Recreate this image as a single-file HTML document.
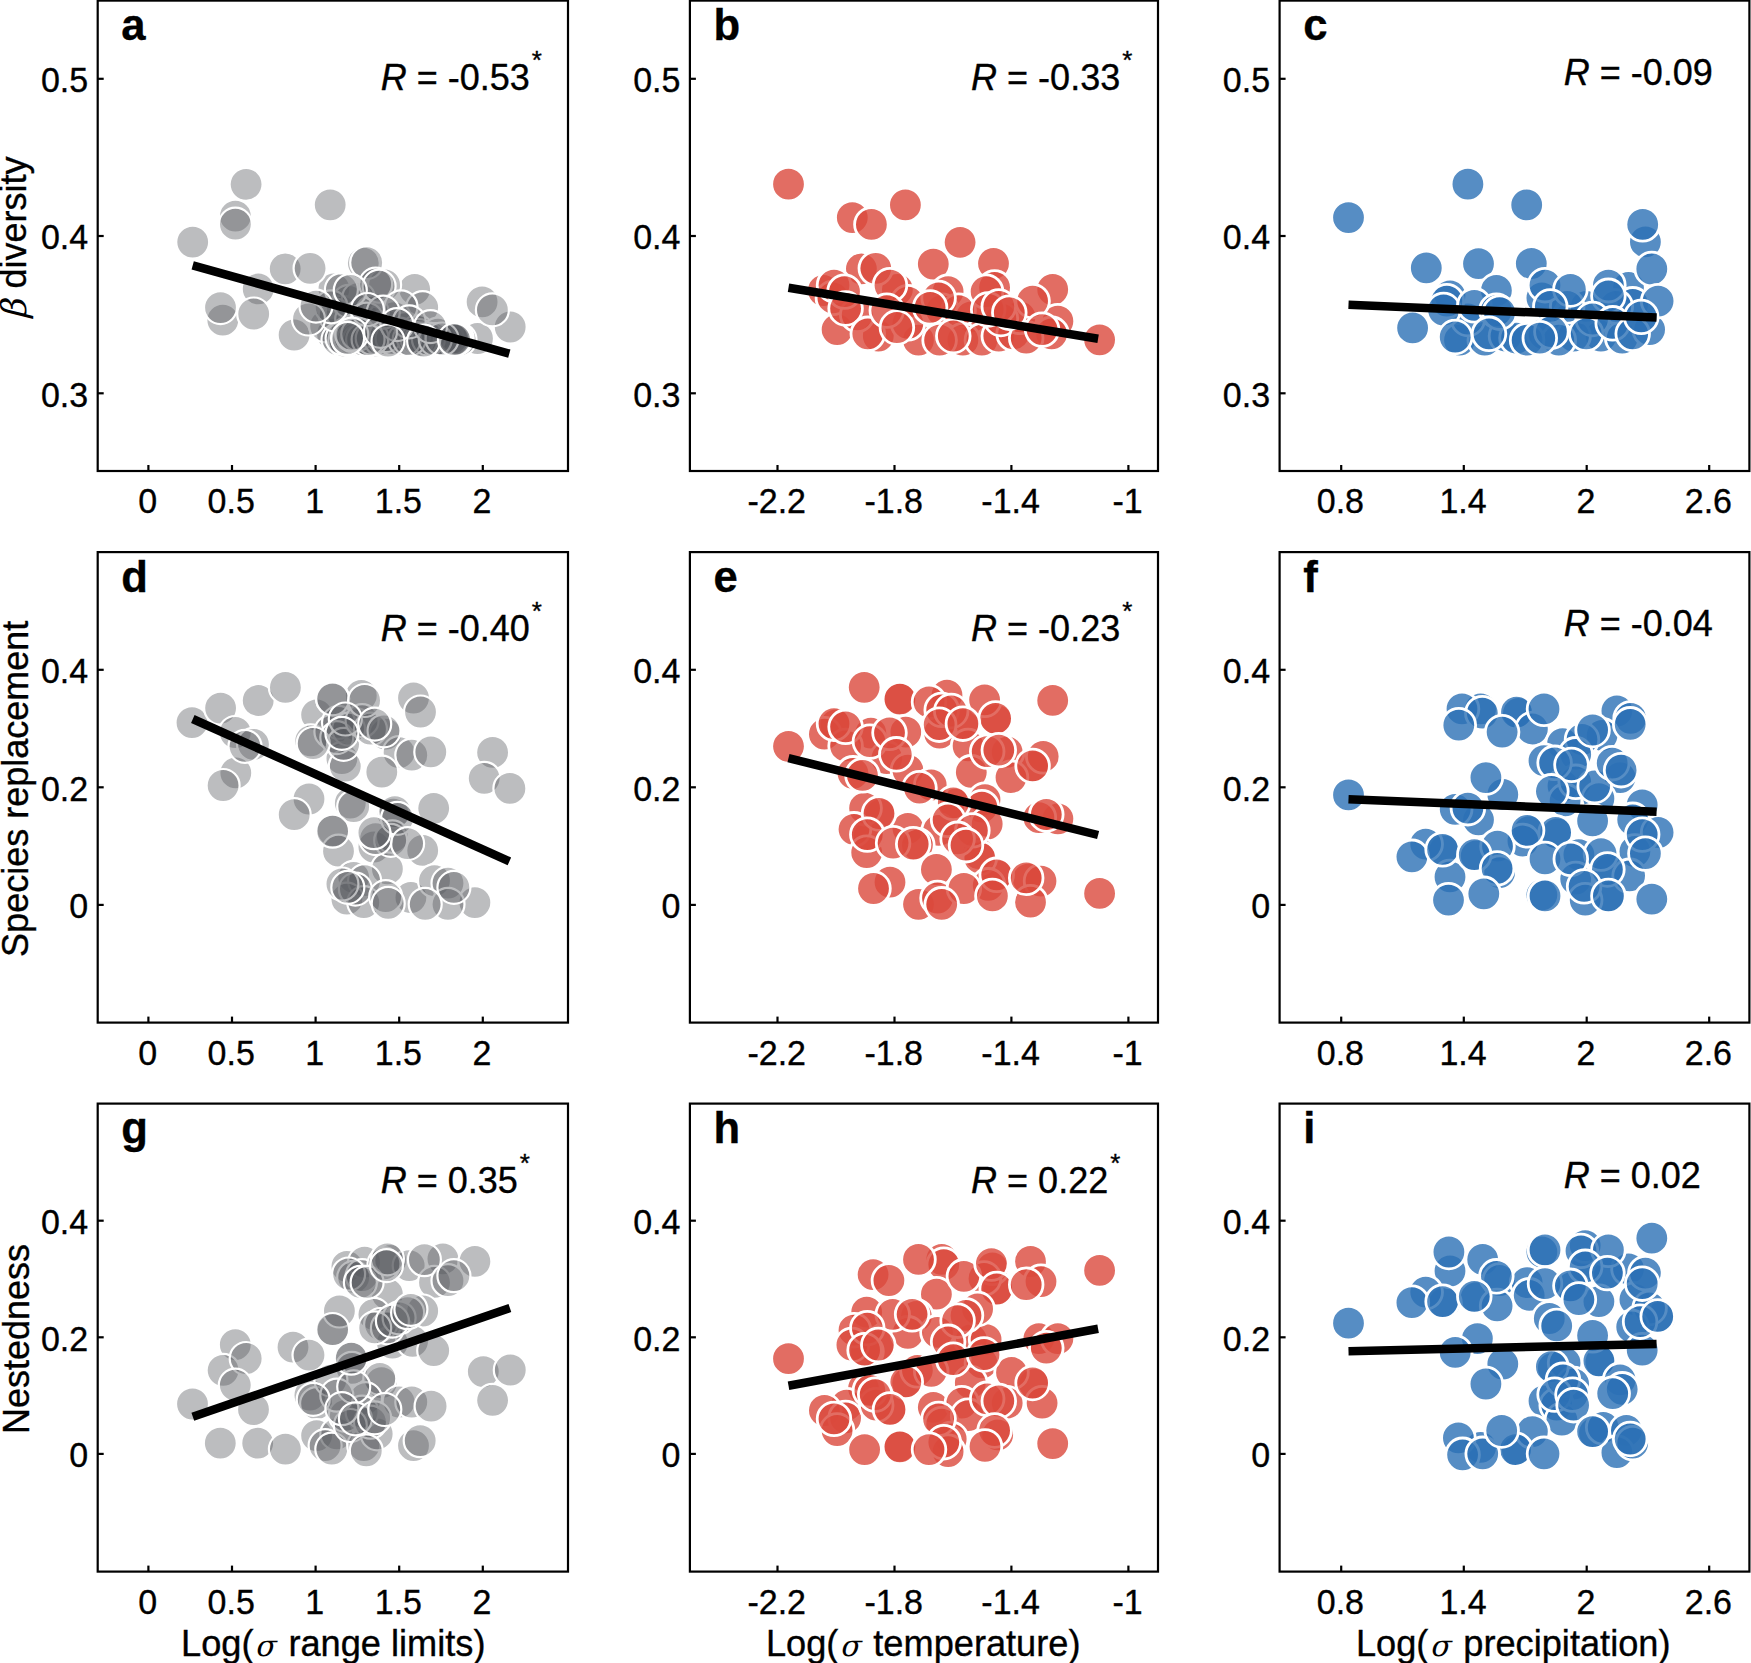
<!DOCTYPE html><html><head><meta charset="utf-8"><title>Figure</title><style>
html,body{margin:0;padding:0;background:#fff}svg{display:block}
text{font-family:"Liberation Sans",sans-serif;fill:#000;stroke:#000;stroke-width:0.35px}

.tk{font-size:34px}.ax{font-size:36px}.rt{font-size:36px}.pl{font-size:43.6px;font-weight:bold}
.gk{font-family:"DejaVu Math TeX Gyre","DejaVu Serif",serif;font-style:italic;stroke-width:0}
.fr{fill:none;stroke:#000;stroke-width:2.2}.t{stroke:#000;stroke-width:2.2}
.c0 circle{fill:#58595f;fill-opacity:0.4;stroke:#fff;stroke-width:2.2}
.c1 circle{fill:#db483c;fill-opacity:0.8;stroke:#fff;stroke-width:2.8}
.c2 circle{fill:#2c70b5;fill-opacity:0.8;stroke:#fff;stroke-width:2.8}
.ln{stroke:#000;stroke-width:8.5;stroke-linecap:butt}
</style></head><body>
<svg width="1751" height="1663" viewBox="0 0 1751 1663">
<rect width="1751" height="1663" fill="#fff"/>
<g>
<g class="c0">
<circle cx="246.1" cy="184.3" r="16.5"/><circle cx="330.2" cy="204.8" r="16.5"/><circle cx="235.4" cy="216.2" r="16.5"/><circle cx="192.7" cy="242.1" r="16.5"/><circle cx="285.2" cy="268.8" r="16.5"/><circle cx="363.3" cy="263.1" r="16.5"/><circle cx="258.2" cy="288.9" r="16.5"/><circle cx="222.8" cy="320.2" r="16.5"/><circle cx="294.1" cy="335.0" r="16.5"/><circle cx="482.1" cy="301.9" r="16.5"/><circle cx="510.2" cy="327.0" r="16.5"/><circle cx="477.5" cy="338.5" r="16.5"/><circle cx="414.7" cy="289.3" r="16.5"/><circle cx="422.7" cy="307.6" r="16.5"/><circle cx="384.6" cy="284.8" r="16.5"/><circle cx="333.9" cy="288.9" r="16.5"/><circle cx="332.5" cy="334.2" r="16.5"/><circle cx="372.2" cy="339.6" r="16.5"/><circle cx="413.4" cy="339.6" r="16.5"/><circle cx="447.6" cy="339.6" r="16.5"/><circle cx="460.0" cy="339.6" r="16.5"/><circle cx="433.9" cy="341.0" r="16.5"/><circle cx="362.6" cy="341.0" r="16.5"/><circle cx="355.8" cy="325.9" r="16.5"/><circle cx="325.6" cy="325.9" r="16.5"/><circle cx="338.0" cy="339.6" r="16.5"/><circle cx="344.8" cy="341.0" r="16.5"/><circle cx="353.0" cy="340.3" r="16.5"/><circle cx="366.8" cy="339.6" r="16.5"/><circle cx="377.7" cy="341.0" r="16.5"/><circle cx="384.6" cy="339.6" r="16.5"/><circle cx="394.2" cy="340.3" r="16.5"/><circle cx="402.4" cy="339.6" r="16.5"/><circle cx="407.9" cy="341.0" r="16.5"/><circle cx="418.8" cy="340.3" r="16.5"/><circle cx="427.1" cy="339.6" r="16.5"/><circle cx="440.8" cy="340.3" r="16.5"/><circle cx="342.1" cy="312.2" r="16.5"/><circle cx="351.7" cy="319.1" r="16.5"/><circle cx="361.3" cy="315.0" r="16.5"/><circle cx="372.2" cy="323.2" r="16.5"/><circle cx="385.9" cy="325.9" r="16.5"/><circle cx="394.2" cy="317.7" r="16.5"/><circle cx="405.1" cy="328.7" r="16.5"/><circle cx="417.5" cy="331.4" r="16.5"/><circle cx="358.5" cy="331.4" r="16.5"/><circle cx="366.8" cy="328.7" r="16.5"/><circle cx="375.0" cy="334.2" r="16.5"/><circle cx="438.0" cy="334.2" r="16.5"/><circle cx="348.9" cy="301.3" r="16.5"/><circle cx="358.5" cy="298.5" r="16.5"/><circle cx="348.9" cy="336.9" r="16.5"/><circle cx="354.4" cy="338.3" r="16.5"/><circle cx="358.5" cy="339.6" r="16.5"/><circle cx="351.0" cy="340.3" r="16.5"/><circle cx="361.3" cy="338.3" r="16.5"/><circle cx="357.2" cy="335.5" r="16.5"/><circle cx="346.2" cy="334.2" r="16.5"/><circle cx="364.0" cy="335.5" r="16.5"/><circle cx="342.1" cy="338.3" r="16.5"/><circle cx="352.4" cy="331.4" r="16.5"/><circle cx="379.1" cy="338.3" r="16.5"/><circle cx="385.9" cy="336.9" r="16.5"/><circle cx="391.4" cy="339.6" r="16.5"/><circle cx="396.9" cy="338.3" r="16.5"/><circle cx="381.8" cy="334.2" r="16.5"/><circle cx="388.7" cy="332.8" r="16.5"/><circle cx="399.6" cy="334.2" r="16.5"/><circle cx="416.1" cy="339.6" r="16.5"/><circle cx="421.6" cy="338.3" r="16.5"/><circle cx="425.7" cy="341.0" r="16.5"/><circle cx="418.8" cy="335.5" r="16.5"/><circle cx="451.7" cy="338.3" r="16.5"/><circle cx="457.2" cy="338.3" r="16.5"/><circle cx="372.2" cy="312.2" r="16.5"/><circle cx="366.8" cy="319.1" r="16.5"/><circle cx="335.2" cy="315.0" r="16.5"/><circle cx="331.1" cy="306.8" r="16.5"/><circle cx="350.3" cy="338.3" r="16.5"/><circle cx="353.7" cy="339.6" r="16.5"/><circle cx="356.5" cy="339.0" r="16.5"/><circle cx="359.2" cy="340.3" r="16.5"/><circle cx="348.3" cy="339.6" r="16.5"/><circle cx="362.6" cy="339.6" r="16.5"/><circle cx="352.4" cy="335.5" r="16.5"/><circle cx="357.8" cy="334.2" r="16.5"/><circle cx="380.5" cy="339.6" r="16.5"/><circle cx="384.6" cy="338.3" r="16.5"/><circle cx="388.0" cy="339.0" r="16.5"/><circle cx="392.1" cy="338.3" r="16.5"/><circle cx="385.9" cy="335.5" r="16.5"/><circle cx="413.4" cy="338.3" r="16.5"/><circle cx="417.5" cy="339.6" r="16.5"/><circle cx="420.9" cy="340.3" r="16.5"/><circle cx="428.4" cy="339.0" r="16.5"/><circle cx="453.1" cy="339.6" r="16.5"/><circle cx="455.8" cy="339.0" r="16.5"/><circle cx="372.2" cy="338.3" r="16.5"/><circle cx="368.1" cy="339.6" r="16.5"/><circle cx="404.4" cy="339.6" r="16.5"/><circle cx="409.2" cy="339.6" r="16.5"/><circle cx="435.3" cy="339.6" r="16.5"/><circle cx="442.1" cy="339.0" r="16.5"/><circle cx="235.4" cy="224.2" r="16.5"/><circle cx="310.1" cy="268.3" r="16.5"/><circle cx="366.7" cy="262.6" r="16.5"/><circle cx="220.5" cy="307.6" r="16.5"/><circle cx="253.7" cy="314.0" r="16.5"/><circle cx="308.5" cy="319.0" r="16.5"/><circle cx="492.4" cy="309.9" r="16.5"/><circle cx="375.7" cy="284.1" r="16.5"/><circle cx="379.1" cy="286.2" r="16.5"/><circle cx="341.4" cy="289.6" r="16.5"/><circle cx="350.3" cy="290.3" r="16.5"/><circle cx="401.0" cy="306.8" r="16.5"/><circle cx="316.0" cy="306.1" r="16.5"/><circle cx="383.2" cy="312.2" r="16.5"/><circle cx="367.4" cy="309.5" r="16.5"/><circle cx="409.2" cy="321.8" r="16.5"/><circle cx="396.9" cy="324.6" r="16.5"/><circle cx="430.5" cy="326.6" r="16.5"/><circle cx="351.7" cy="334.2" r="16.5"/><circle cx="347.6" cy="338.3" r="16.5"/><circle cx="380.5" cy="331.4" r="16.5"/><circle cx="388.0" cy="341.0" r="16.5"/><circle cx="423.6" cy="341.0" r="16.5"/><circle cx="454.5" cy="339.6" r="16.5"/>
</g>
<line class="ln" x1="192.7" y1="265.4" x2="509.3" y2="353.6"/>
<rect class="fr" x="97.70" y="0.60" width="470.30" height="470.40"/>
<line class="t" x1="148.4" y1="471.0" x2="148.4" y2="465.0"/>
<text class="tk" text-anchor="middle" transform="translate(147.6,513.0) scale(1,1.033)">0</text>
<line class="t" x1="232.0" y1="471.0" x2="232.0" y2="465.0"/>
<text class="tk" text-anchor="middle" transform="translate(231.2,513.0) scale(1,1.033)">0.5</text>
<line class="t" x1="315.6" y1="471.0" x2="315.6" y2="465.0"/>
<text class="tk" text-anchor="middle" transform="translate(314.8,513.0) scale(1,1.033)">1</text>
<line class="t" x1="399.2" y1="471.0" x2="399.2" y2="465.0"/>
<text class="tk" text-anchor="middle" transform="translate(398.4,513.0) scale(1,1.033)">1.5</text>
<line class="t" x1="482.8" y1="471.0" x2="482.8" y2="465.0"/>
<text class="tk" text-anchor="middle" transform="translate(482.0,513.0) scale(1,1.033)">2</text>
<line class="t" x1="97.7" y1="78.8" x2="103.7" y2="78.8"/>
<text class="tk" text-anchor="end" transform="translate(88.2,92.1) scale(1,1.033)">0.5</text>
<line class="t" x1="97.7" y1="236.0" x2="103.7" y2="236.0"/>
<text class="tk" text-anchor="end" transform="translate(88.2,249.3) scale(1,1.033)">0.4</text>
<line class="t" x1="97.7" y1="393.3" x2="103.7" y2="393.3"/>
<text class="tk" text-anchor="end" transform="translate(88.2,406.6) scale(1,1.033)">0.3</text>
<text class="pl" x="121.3" y="40.0">a</text>
<text class="rt" x="380.7" y="89.6"><tspan font-style="italic">R</tspan> = -0.53<tspan dy="-21" dx="2" font-size="26">*</tspan></text>
</g>
<g>
<g class="c1">
<circle cx="788.5" cy="184.2" r="16.8"/><circle cx="852.3" cy="217.6" r="16.8"/><circle cx="905.4" cy="204.9" r="16.8"/><circle cx="960.1" cy="242.3" r="16.8"/><circle cx="933.3" cy="264.1" r="16.8"/><circle cx="993.5" cy="263.5" r="16.8"/><circle cx="861.4" cy="268.8" r="16.8"/><circle cx="897.4" cy="289.5" r="16.8"/><circle cx="823.4" cy="290.5" r="16.8"/><circle cx="837.1" cy="329.6" r="16.8"/><circle cx="832.9" cy="297.9" r="16.8"/><circle cx="948.1" cy="291.6" r="16.8"/><circle cx="994.6" cy="287.4" r="16.8"/><circle cx="1052.7" cy="289.5" r="16.8"/><circle cx="941.7" cy="310.6" r="16.8"/><circle cx="907.9" cy="302.1" r="16.8"/><circle cx="971.3" cy="316.9" r="16.8"/><circle cx="958.6" cy="310.6" r="16.8"/><circle cx="878.3" cy="336.0" r="16.8"/><circle cx="918.5" cy="340.2" r="16.8"/><circle cx="962.9" cy="340.2" r="16.8"/><circle cx="939.6" cy="340.2" r="16.8"/><circle cx="981.9" cy="340.2" r="16.8"/><circle cx="998.8" cy="336.0" r="16.8"/><circle cx="1013.6" cy="333.8" r="16.8"/><circle cx="1057.9" cy="321.2" r="16.8"/><circle cx="1051.6" cy="333.8" r="16.8"/><circle cx="1099.6" cy="339.8" r="16.8"/><circle cx="1019.9" cy="316.9" r="16.8"/><circle cx="857.2" cy="314.8" r="16.8"/><circle cx="907.9" cy="323.3" r="16.8"/><circle cx="1000.9" cy="319.0" r="16.8"/><circle cx="871.4" cy="224.4" r="16.8"/><circle cx="875.8" cy="268.3" r="16.8"/><circle cx="890.0" cy="285.2" r="16.8"/><circle cx="834.0" cy="285.2" r="16.8"/><circle cx="844.5" cy="291.6" r="16.8"/><circle cx="845.6" cy="308.5" r="16.8"/><circle cx="938.6" cy="297.9" r="16.8"/><circle cx="986.1" cy="291.6" r="16.8"/><circle cx="1032.6" cy="301.1" r="16.8"/><circle cx="930.1" cy="307.4" r="16.8"/><circle cx="988.2" cy="309.5" r="16.8"/><circle cx="998.8" cy="306.4" r="16.8"/><circle cx="867.8" cy="333.8" r="16.8"/><circle cx="886.8" cy="310.6" r="16.8"/><circle cx="896.9" cy="327.5" r="16.8"/><circle cx="953.3" cy="336.0" r="16.8"/><circle cx="1026.2" cy="338.1" r="16.8"/><circle cx="1042.1" cy="329.6" r="16.8"/><circle cx="1009.3" cy="312.7" r="16.8"/>
</g>
<line class="ln" x1="788.5" y1="287.8" x2="1098.1" y2="338.7"/>
<rect class="fr" x="689.90" y="0.60" width="468.10" height="470.40"/>
<line class="t" x1="777.5" y1="471.0" x2="777.5" y2="465.0"/>
<text class="tk" text-anchor="middle" transform="translate(776.7,513.0) scale(1,1.033)">-2.2</text>
<line class="t" x1="894.5" y1="471.0" x2="894.5" y2="465.0"/>
<text class="tk" text-anchor="middle" transform="translate(893.7,513.0) scale(1,1.033)">-1.8</text>
<line class="t" x1="1011.4" y1="471.0" x2="1011.4" y2="465.0"/>
<text class="tk" text-anchor="middle" transform="translate(1010.6,513.0) scale(1,1.033)">-1.4</text>
<line class="t" x1="1128.4" y1="471.0" x2="1128.4" y2="465.0"/>
<text class="tk" text-anchor="middle" transform="translate(1127.6,513.0) scale(1,1.033)">-1</text>
<line class="t" x1="689.9" y1="78.8" x2="695.9" y2="78.8"/>
<text class="tk" text-anchor="end" transform="translate(680.4,92.1) scale(1,1.033)">0.5</text>
<line class="t" x1="689.9" y1="236.0" x2="695.9" y2="236.0"/>
<text class="tk" text-anchor="end" transform="translate(680.4,249.3) scale(1,1.033)">0.4</text>
<line class="t" x1="689.9" y1="393.3" x2="695.9" y2="393.3"/>
<text class="tk" text-anchor="end" transform="translate(680.4,406.6) scale(1,1.033)">0.3</text>
<text class="pl" x="713.5" y="40.0">b</text>
<text class="rt" x="971.1" y="89.6"><tspan font-style="italic">R</tspan> = -0.33<tspan dy="-21" dx="2" font-size="26">*</tspan></text>
</g>
<g>
<g class="c2">
<circle cx="1348.5" cy="217.6" r="16.8"/><circle cx="1467.9" cy="184.2" r="16.8"/><circle cx="1526.7" cy="204.9" r="16.8"/><circle cx="1645.4" cy="241.9" r="16.8"/><circle cx="1426.3" cy="267.9" r="16.8"/><circle cx="1478.5" cy="263.7" r="16.8"/><circle cx="1531.3" cy="263.5" r="16.8"/><circle cx="1450.0" cy="295.8" r="16.8"/><circle cx="1412.6" cy="327.9" r="16.8"/><circle cx="1628.5" cy="287.4" r="16.8"/><circle cx="1541.9" cy="297.9" r="16.8"/><circle cx="1632.7" cy="304.3" r="16.8"/><circle cx="1459.5" cy="340.2" r="16.8"/><circle cx="1484.8" cy="340.2" r="16.8"/><circle cx="1506.0" cy="336.0" r="16.8"/><circle cx="1516.5" cy="338.1" r="16.8"/><circle cx="1544.0" cy="333.8" r="16.8"/><circle cx="1601.0" cy="336.0" r="16.8"/><circle cx="1622.2" cy="338.1" r="16.8"/><circle cx="1649.6" cy="329.6" r="16.8"/><circle cx="1569.3" cy="319.0" r="16.8"/><circle cx="1573.6" cy="336.0" r="16.8"/><circle cx="1558.8" cy="340.2" r="16.8"/><circle cx="1586.2" cy="306.4" r="16.8"/><circle cx="1567.2" cy="306.4" r="16.8"/><circle cx="1467.9" cy="319.0" r="16.8"/><circle cx="1527.1" cy="340.2" r="16.8"/><circle cx="1615.8" cy="306.4" r="16.8"/><circle cx="1642.7" cy="224.4" r="16.8"/><circle cx="1651.8" cy="269.0" r="16.8"/><circle cx="1658.1" cy="301.1" r="16.8"/><circle cx="1496.4" cy="290.5" r="16.8"/><circle cx="1446.8" cy="301.1" r="16.8"/><circle cx="1443.6" cy="310.0" r="16.8"/><circle cx="1474.3" cy="305.3" r="16.8"/><circle cx="1545.0" cy="285.2" r="16.8"/><circle cx="1570.4" cy="289.5" r="16.8"/><circle cx="1608.4" cy="285.2" r="16.8"/><circle cx="1550.3" cy="306.4" r="16.8"/><circle cx="1608.4" cy="295.8" r="16.8"/><circle cx="1496.4" cy="310.6" r="16.8"/><circle cx="1499.6" cy="312.7" r="16.8"/><circle cx="1455.2" cy="337.0" r="16.8"/><circle cx="1489.0" cy="333.8" r="16.8"/><circle cx="1551.4" cy="331.7" r="16.8"/><circle cx="1539.8" cy="338.1" r="16.8"/><circle cx="1592.6" cy="319.0" r="16.8"/><circle cx="1586.2" cy="333.8" r="16.8"/><circle cx="1612.7" cy="323.3" r="16.8"/><circle cx="1632.7" cy="333.8" r="16.8"/><circle cx="1641.2" cy="316.9" r="16.8"/>
</g>
<line class="ln" x1="1348.5" y1="304.7" x2="1656.6" y2="317.6"/>
<rect class="fr" x="1279.60" y="0.60" width="469.80" height="470.40"/>
<line class="t" x1="1341.2" y1="471.0" x2="1341.2" y2="465.0"/>
<text class="tk" text-anchor="middle" transform="translate(1340.4,513.0) scale(1,1.033)">0.8</text>
<line class="t" x1="1463.8" y1="471.0" x2="1463.8" y2="465.0"/>
<text class="tk" text-anchor="middle" transform="translate(1463.0,513.0) scale(1,1.033)">1.4</text>
<line class="t" x1="1586.7" y1="471.0" x2="1586.7" y2="465.0"/>
<text class="tk" text-anchor="middle" transform="translate(1585.9,513.0) scale(1,1.033)">2</text>
<line class="t" x1="1709.2" y1="471.0" x2="1709.2" y2="465.0"/>
<text class="tk" text-anchor="middle" transform="translate(1708.4,513.0) scale(1,1.033)">2.6</text>
<line class="t" x1="1279.6" y1="78.8" x2="1285.6" y2="78.8"/>
<text class="tk" text-anchor="end" transform="translate(1270.1,92.1) scale(1,1.033)">0.5</text>
<line class="t" x1="1279.6" y1="236.0" x2="1285.6" y2="236.0"/>
<text class="tk" text-anchor="end" transform="translate(1270.1,249.3) scale(1,1.033)">0.4</text>
<line class="t" x1="1279.6" y1="393.3" x2="1285.6" y2="393.3"/>
<text class="tk" text-anchor="end" transform="translate(1270.1,406.6) scale(1,1.033)">0.3</text>
<text class="pl" x="1303.2" y="40.0">c</text>
<text class="rt" x="1563.8" y="84.8"><tspan font-style="italic">R</tspan> = -0.09</text>
</g>
<g>
<g class="c0">
<circle cx="192.0" cy="722.7" r="16.5"/><circle cx="220.6" cy="708.1" r="16.5"/><circle cx="258.2" cy="700.5" r="16.5"/><circle cx="285.4" cy="687.4" r="16.5"/><circle cx="235.3" cy="732.5" r="16.5"/><circle cx="253.5" cy="744.3" r="16.5"/><circle cx="235.8" cy="772.9" r="16.5"/><circle cx="309.0" cy="799.0" r="16.5"/><circle cx="294.2" cy="814.7" r="16.5"/><circle cx="316.6" cy="714.8" r="16.5"/><circle cx="310.7" cy="740.9" r="16.5"/><circle cx="361.3" cy="695.5" r="16.5"/><circle cx="413.5" cy="698.0" r="16.5"/><circle cx="356.2" cy="724.9" r="16.5"/><circle cx="330.9" cy="731.7" r="16.5"/><circle cx="385.7" cy="734.2" r="16.5"/><circle cx="399.1" cy="752.7" r="16.5"/><circle cx="411.8" cy="755.2" r="16.5"/><circle cx="341.9" cy="758.6" r="16.5"/><circle cx="345.3" cy="766.2" r="16.5"/><circle cx="492.6" cy="752.4" r="16.5"/><circle cx="484.2" cy="778.3" r="16.5"/><circle cx="433.7" cy="808.3" r="16.5"/><circle cx="350.3" cy="803.2" r="16.5"/><circle cx="393.2" cy="814.2" r="16.5"/><circle cx="394.9" cy="811.6" r="16.5"/><circle cx="333.1" cy="830.5" r="16.5"/><circle cx="338.5" cy="851.2" r="16.5"/><circle cx="332.6" cy="698.8" r="16.5"/><circle cx="373.9" cy="847.0" r="16.5"/><circle cx="392.4" cy="836.9" r="16.5"/><circle cx="422.7" cy="850.4" r="16.5"/><circle cx="387.4" cy="868.9" r="16.5"/><circle cx="353.7" cy="877.3" r="16.5"/><circle cx="364.6" cy="880.7" r="16.5"/><circle cx="346.9" cy="899.2" r="16.5"/><circle cx="363.8" cy="902.6" r="16.5"/><circle cx="410.9" cy="897.5" r="16.5"/><circle cx="434.5" cy="880.7" r="16.5"/><circle cx="448.0" cy="883.2" r="16.5"/><circle cx="474.9" cy="902.6" r="16.5"/><circle cx="448.0" cy="904.3" r="16.5"/><circle cx="338.5" cy="722.4" r="16.5"/><circle cx="348.6" cy="729.1" r="16.5"/><circle cx="336.8" cy="737.6" r="16.5"/><circle cx="343.6" cy="744.3" r="16.5"/><circle cx="362.1" cy="720.7" r="16.5"/><circle cx="370.5" cy="729.1" r="16.5"/><circle cx="390.7" cy="840.3" r="16.5"/><circle cx="375.6" cy="838.6" r="16.5"/><circle cx="355.4" cy="889.1" r="16.5"/><circle cx="341.9" cy="884.0" r="16.5"/><circle cx="245.0" cy="746.3" r="16.5"/><circle cx="223.1" cy="785.5" r="16.5"/><circle cx="313.2" cy="743.5" r="16.5"/><circle cx="332.6" cy="698.8" r="16.5"/><circle cx="364.6" cy="700.5" r="16.5"/><circle cx="345.3" cy="719.0" r="16.5"/><circle cx="384.0" cy="730.8" r="16.5"/><circle cx="341.9" cy="733.3" r="16.5"/><circle cx="374.7" cy="724.1" r="16.5"/><circle cx="420.5" cy="712.0" r="16.5"/><circle cx="430.8" cy="751.9" r="16.5"/><circle cx="381.8" cy="772.1" r="16.5"/><circle cx="509.9" cy="788.4" r="16.5"/><circle cx="353.7" cy="806.6" r="16.5"/><circle cx="397.5" cy="818.4" r="16.5"/><circle cx="373.9" cy="832.7" r="16.5"/><circle cx="407.6" cy="843.6" r="16.5"/><circle cx="332.6" cy="831.2" r="16.5"/><circle cx="347.8" cy="887.4" r="16.5"/><circle cx="385.7" cy="896.7" r="16.5"/><circle cx="388.2" cy="903.4" r="16.5"/><circle cx="453.9" cy="887.4" r="16.5"/><circle cx="425.2" cy="904.3" r="16.5"/>
</g>
<line class="ln" x1="192.8" y1="719.0" x2="509.4" y2="861.3"/>
<rect class="fr" x="97.70" y="552.10" width="470.30" height="470.50"/>
<line class="t" x1="148.4" y1="1022.6" x2="148.4" y2="1016.6"/>
<text class="tk" text-anchor="middle" transform="translate(147.6,1064.6) scale(1,1.033)">0</text>
<line class="t" x1="232.0" y1="1022.6" x2="232.0" y2="1016.6"/>
<text class="tk" text-anchor="middle" transform="translate(231.2,1064.6) scale(1,1.033)">0.5</text>
<line class="t" x1="315.6" y1="1022.6" x2="315.6" y2="1016.6"/>
<text class="tk" text-anchor="middle" transform="translate(314.8,1064.6) scale(1,1.033)">1</text>
<line class="t" x1="399.2" y1="1022.6" x2="399.2" y2="1016.6"/>
<text class="tk" text-anchor="middle" transform="translate(398.4,1064.6) scale(1,1.033)">1.5</text>
<line class="t" x1="482.8" y1="1022.6" x2="482.8" y2="1016.6"/>
<text class="tk" text-anchor="middle" transform="translate(482.0,1064.6) scale(1,1.033)">2</text>
<line class="t" x1="97.7" y1="669.8" x2="103.7" y2="669.8"/>
<text class="tk" text-anchor="end" transform="translate(88.2,683.1) scale(1,1.033)">0.4</text>
<line class="t" x1="97.7" y1="787.3" x2="103.7" y2="787.3"/>
<text class="tk" text-anchor="end" transform="translate(88.2,800.6) scale(1,1.033)">0.2</text>
<line class="t" x1="97.7" y1="904.9" x2="103.7" y2="904.9"/>
<text class="tk" text-anchor="end" transform="translate(88.2,918.2) scale(1,1.033)">0</text>
<text class="pl" x="121.3" y="591.5">d</text>
<text class="rt" x="380.7" y="641.1"><tspan font-style="italic">R</tspan> = -0.40<tspan dy="-21" dx="2" font-size="26">*</tspan></text>
</g>
<g>
<g class="c1">
<circle cx="835.9" cy="724.9" r="16.8"/><circle cx="964.8" cy="724.9" r="16.8"/><circle cx="1034.5" cy="767.2" r="16.8"/><circle cx="955.2" cy="804.2" r="16.8"/><circle cx="880.9" cy="814.7" r="16.8"/><circle cx="869.2" cy="835.9" r="16.8"/><circle cx="998.6" cy="876.0" r="16.8"/><circle cx="1028.2" cy="879.2" r="16.8"/><circle cx="788.5" cy="746.3" r="16.8"/><circle cx="864.2" cy="687.3" r="16.8"/><circle cx="899.5" cy="698.7" r="16.8"/><circle cx="899.9" cy="699.2" r="16.8"/><circle cx="947.0" cy="695.1" r="16.8"/><circle cx="1052.7" cy="700.4" r="16.8"/><circle cx="996.7" cy="720.5" r="16.8"/><circle cx="824.4" cy="734.2" r="16.8"/><circle cx="870.9" cy="733.2" r="16.8"/><circle cx="845.6" cy="745.9" r="16.8"/><circle cx="905.8" cy="732.1" r="16.8"/><circle cx="939.6" cy="733.2" r="16.8"/><circle cx="968.1" cy="745.9" r="16.8"/><circle cx="1007.2" cy="752.2" r="16.8"/><circle cx="1043.2" cy="756.4" r="16.8"/><circle cx="886.8" cy="758.5" r="16.8"/><circle cx="907.9" cy="770.2" r="16.8"/><circle cx="853.0" cy="773.3" r="16.8"/><circle cx="971.3" cy="772.3" r="16.8"/><circle cx="1011.0" cy="777.6" r="16.8"/><circle cx="931.2" cy="785.0" r="16.8"/><circle cx="985.0" cy="799.7" r="16.8"/><circle cx="981.9" cy="807.1" r="16.8"/><circle cx="864.6" cy="808.2" r="16.8"/><circle cx="1057.9" cy="818.8" r="16.8"/><circle cx="1038.9" cy="817.7" r="16.8"/><circle cx="854.0" cy="829.3" r="16.8"/><circle cx="907.9" cy="828.3" r="16.8"/><circle cx="938.6" cy="830.4" r="16.8"/><circle cx="987.2" cy="824.0" r="16.8"/><circle cx="978.7" cy="853.6" r="16.8"/><circle cx="917.4" cy="845.2" r="16.8"/><circle cx="866.7" cy="852.6" r="16.8"/><circle cx="936.4" cy="869.5" r="16.8"/><circle cx="979.8" cy="857.9" r="16.8"/><circle cx="890.0" cy="882.2" r="16.8"/><circle cx="1041.0" cy="881.1" r="16.8"/><circle cx="1030.5" cy="902.2" r="16.8"/><circle cx="988.2" cy="885.3" r="16.8"/><circle cx="918.5" cy="904.3" r="16.8"/><circle cx="937.5" cy="898.0" r="16.8"/><circle cx="1099.6" cy="893.4" r="16.8"/><circle cx="929.0" cy="701.9" r="16.8"/><circle cx="941.7" cy="709.9" r="16.8"/><circle cx="951.2" cy="711.0" r="16.8"/><circle cx="984.6" cy="699.8" r="16.8"/><circle cx="995.6" cy="718.4" r="16.8"/><circle cx="834.0" cy="723.7" r="16.8"/><circle cx="845.6" cy="726.8" r="16.8"/><circle cx="869.9" cy="741.6" r="16.8"/><circle cx="889.5" cy="732.8" r="16.8"/><circle cx="939.2" cy="724.7" r="16.8"/><circle cx="962.9" cy="723.7" r="16.8"/><circle cx="987.2" cy="751.6" r="16.8"/><circle cx="998.8" cy="750.1" r="16.8"/><circle cx="1032.6" cy="765.9" r="16.8"/><circle cx="896.3" cy="754.3" r="16.8"/><circle cx="862.5" cy="775.4" r="16.8"/><circle cx="919.5" cy="788.1" r="16.8"/><circle cx="953.3" cy="802.9" r="16.8"/><circle cx="879.0" cy="813.5" r="16.8"/><circle cx="1046.3" cy="814.5" r="16.8"/><circle cx="867.3" cy="834.6" r="16.8"/><circle cx="948.1" cy="819.8" r="16.8"/><circle cx="972.4" cy="830.4" r="16.8"/><circle cx="957.6" cy="838.8" r="16.8"/><circle cx="966.0" cy="845.2" r="16.8"/><circle cx="893.1" cy="843.1" r="16.8"/><circle cx="913.2" cy="844.1" r="16.8"/><circle cx="873.5" cy="888.5" r="16.8"/><circle cx="996.7" cy="874.8" r="16.8"/><circle cx="1026.2" cy="877.9" r="16.8"/><circle cx="963.9" cy="888.5" r="16.8"/><circle cx="992.4" cy="895.9" r="16.8"/><circle cx="941.7" cy="904.3" r="16.8"/>
</g>
<line class="ln" x1="788.5" y1="758.1" x2="1098.1" y2="835.0"/>
<rect class="fr" x="689.90" y="552.10" width="468.10" height="470.50"/>
<line class="t" x1="777.5" y1="1022.6" x2="777.5" y2="1016.6"/>
<text class="tk" text-anchor="middle" transform="translate(776.7,1064.6) scale(1,1.033)">-2.2</text>
<line class="t" x1="894.5" y1="1022.6" x2="894.5" y2="1016.6"/>
<text class="tk" text-anchor="middle" transform="translate(893.7,1064.6) scale(1,1.033)">-1.8</text>
<line class="t" x1="1011.4" y1="1022.6" x2="1011.4" y2="1016.6"/>
<text class="tk" text-anchor="middle" transform="translate(1010.6,1064.6) scale(1,1.033)">-1.4</text>
<line class="t" x1="1128.4" y1="1022.6" x2="1128.4" y2="1016.6"/>
<text class="tk" text-anchor="middle" transform="translate(1127.6,1064.6) scale(1,1.033)">-1</text>
<line class="t" x1="689.9" y1="669.8" x2="695.9" y2="669.8"/>
<text class="tk" text-anchor="end" transform="translate(680.4,683.1) scale(1,1.033)">0.4</text>
<line class="t" x1="689.9" y1="787.3" x2="695.9" y2="787.3"/>
<text class="tk" text-anchor="end" transform="translate(680.4,800.6) scale(1,1.033)">0.2</text>
<line class="t" x1="689.9" y1="904.9" x2="695.9" y2="904.9"/>
<text class="tk" text-anchor="end" transform="translate(680.4,918.2) scale(1,1.033)">0</text>
<text class="pl" x="713.5" y="591.5">e</text>
<text class="rt" x="971.1" y="641.1"><tspan font-style="italic">R</tspan> = -0.23<tspan dy="-21" dx="2" font-size="26">*</tspan></text>
</g>
<g>
<g class="c2">
<circle cx="1518.4" cy="713.3" r="16.8"/><circle cx="1529.0" cy="831.7" r="16.8"/><circle cx="1557.5" cy="833.8" r="16.8"/><circle cx="1444.5" cy="850.7" r="16.8"/><circle cx="1476.2" cy="856.0" r="16.8"/><circle cx="1609.3" cy="870.7" r="16.8"/><circle cx="1610.3" cy="897.2" r="16.8"/><circle cx="1348.5" cy="794.9" r="16.8"/><circle cx="1480.6" cy="708.9" r="16.8"/><circle cx="1516.5" cy="712.1" r="16.8"/><circle cx="1532.4" cy="729.0" r="16.8"/><circle cx="1616.9" cy="711.0" r="16.8"/><circle cx="1630.6" cy="718.4" r="16.8"/><circle cx="1562.6" cy="743.7" r="16.8"/><circle cx="1602.1" cy="735.3" r="16.8"/><circle cx="1582.0" cy="739.5" r="16.8"/><circle cx="1544.0" cy="760.7" r="16.8"/><circle cx="1575.7" cy="754.3" r="16.8"/><circle cx="1620.1" cy="777.6" r="16.8"/><circle cx="1502.8" cy="794.5" r="16.8"/><circle cx="1478.5" cy="819.8" r="16.8"/><circle cx="1563.0" cy="786.0" r="16.8"/><circle cx="1565.1" cy="800.8" r="16.8"/><circle cx="1575.7" cy="781.8" r="16.8"/><circle cx="1598.9" cy="798.7" r="16.8"/><circle cx="1594.7" cy="786.0" r="16.8"/><circle cx="1642.2" cy="805.0" r="16.8"/><circle cx="1592.6" cy="820.9" r="16.8"/><circle cx="1632.7" cy="819.8" r="16.8"/><circle cx="1555.6" cy="832.5" r="16.8"/><circle cx="1522.9" cy="841.0" r="16.8"/><circle cx="1658.1" cy="832.5" r="16.8"/><circle cx="1634.9" cy="851.5" r="16.8"/><circle cx="1425.7" cy="844.1" r="16.8"/><circle cx="1497.5" cy="846.2" r="16.8"/><circle cx="1499.6" cy="872.6" r="16.8"/><circle cx="1450.0" cy="876.9" r="16.8"/><circle cx="1578.9" cy="854.7" r="16.8"/><circle cx="1601.0" cy="853.6" r="16.8"/><circle cx="1629.6" cy="875.8" r="16.8"/><circle cx="1575.7" cy="879.0" r="16.8"/><circle cx="1585.2" cy="900.1" r="16.8"/><circle cx="1541.9" cy="894.8" r="16.8"/><circle cx="1651.8" cy="899.1" r="16.8"/><circle cx="1462.0" cy="708.9" r="16.8"/><circle cx="1482.3" cy="713.1" r="16.8"/><circle cx="1458.8" cy="725.2" r="16.8"/><circle cx="1544.0" cy="708.9" r="16.8"/><circle cx="1502.1" cy="732.1" r="16.8"/><circle cx="1630.2" cy="724.3" r="16.8"/><circle cx="1592.6" cy="730.0" r="16.8"/><circle cx="1554.6" cy="762.8" r="16.8"/><circle cx="1571.5" cy="764.9" r="16.8"/><circle cx="1612.2" cy="763.2" r="16.8"/><circle cx="1621.1" cy="770.2" r="16.8"/><circle cx="1485.9" cy="777.6" r="16.8"/><circle cx="1455.2" cy="809.3" r="16.8"/><circle cx="1467.9" cy="808.2" r="16.8"/><circle cx="1551.4" cy="791.3" r="16.8"/><circle cx="1527.1" cy="830.4" r="16.8"/><circle cx="1642.2" cy="834.6" r="16.8"/><circle cx="1645.4" cy="853.6" r="16.8"/><circle cx="1411.9" cy="856.8" r="16.8"/><circle cx="1442.6" cy="849.4" r="16.8"/><circle cx="1474.3" cy="854.7" r="16.8"/><circle cx="1497.1" cy="868.4" r="16.8"/><circle cx="1448.5" cy="900.1" r="16.8"/><circle cx="1483.8" cy="893.8" r="16.8"/><circle cx="1545.0" cy="858.9" r="16.8"/><circle cx="1570.8" cy="858.9" r="16.8"/><circle cx="1607.4" cy="869.5" r="16.8"/><circle cx="1545.0" cy="895.9" r="16.8"/><circle cx="1584.1" cy="886.4" r="16.8"/><circle cx="1608.4" cy="895.9" r="16.8"/>
</g>
<line class="ln" x1="1348.5" y1="799.3" x2="1656.6" y2="811.8"/>
<rect class="fr" x="1279.60" y="552.10" width="469.80" height="470.50"/>
<line class="t" x1="1341.2" y1="1022.6" x2="1341.2" y2="1016.6"/>
<text class="tk" text-anchor="middle" transform="translate(1340.4,1064.6) scale(1,1.033)">0.8</text>
<line class="t" x1="1463.8" y1="1022.6" x2="1463.8" y2="1016.6"/>
<text class="tk" text-anchor="middle" transform="translate(1463.0,1064.6) scale(1,1.033)">1.4</text>
<line class="t" x1="1586.7" y1="1022.6" x2="1586.7" y2="1016.6"/>
<text class="tk" text-anchor="middle" transform="translate(1585.9,1064.6) scale(1,1.033)">2</text>
<line class="t" x1="1709.2" y1="1022.6" x2="1709.2" y2="1016.6"/>
<text class="tk" text-anchor="middle" transform="translate(1708.4,1064.6) scale(1,1.033)">2.6</text>
<line class="t" x1="1279.6" y1="669.8" x2="1285.6" y2="669.8"/>
<text class="tk" text-anchor="end" transform="translate(1270.1,683.1) scale(1,1.033)">0.4</text>
<line class="t" x1="1279.6" y1="787.3" x2="1285.6" y2="787.3"/>
<text class="tk" text-anchor="end" transform="translate(1270.1,800.6) scale(1,1.033)">0.2</text>
<line class="t" x1="1279.6" y1="904.9" x2="1285.6" y2="904.9"/>
<text class="tk" text-anchor="end" transform="translate(1270.1,918.2) scale(1,1.033)">0</text>
<text class="pl" x="1303.2" y="591.5">f</text>
<text class="rt" x="1563.8" y="636.3"><tspan font-style="italic">R</tspan> = -0.04</text>
</g>
<g>
<g class="c0">
<circle cx="192.5" cy="1404.0" r="16.5"/><circle cx="235.3" cy="1344.7" r="16.5"/><circle cx="223.1" cy="1370.3" r="16.5"/><circle cx="253.5" cy="1409.5" r="16.5"/><circle cx="220.3" cy="1443.2" r="16.5"/><circle cx="257.7" cy="1443.2" r="16.5"/><circle cx="293.0" cy="1347.2" r="16.5"/><circle cx="309.9" cy="1395.2" r="16.5"/><circle cx="316.6" cy="1403.6" r="16.5"/><circle cx="316.6" cy="1435.6" r="16.5"/><circle cx="333.0" cy="1329.9" r="16.5"/><circle cx="351.5" cy="1357.8" r="16.5"/><circle cx="346.9" cy="1266.4" r="16.5"/><circle cx="364.6" cy="1262.2" r="16.5"/><circle cx="390.7" cy="1260.5" r="16.5"/><circle cx="409.2" cy="1265.6" r="16.5"/><circle cx="442.9" cy="1258.8" r="16.5"/><circle cx="474.9" cy="1261.4" r="16.5"/><circle cx="434.5" cy="1282.4" r="16.5"/><circle cx="387.4" cy="1294.2" r="16.5"/><circle cx="339.4" cy="1311.0" r="16.5"/><circle cx="373.9" cy="1314.4" r="16.5"/><circle cx="422.7" cy="1311.0" r="16.5"/><circle cx="392.4" cy="1343.0" r="16.5"/><circle cx="412.6" cy="1341.3" r="16.5"/><circle cx="433.7" cy="1350.6" r="16.5"/><circle cx="352.0" cy="1368.3" r="16.5"/><circle cx="381.5" cy="1382.6" r="16.5"/><circle cx="379.8" cy="1378.4" r="16.5"/><circle cx="330.9" cy="1380.1" r="16.5"/><circle cx="365.5" cy="1398.6" r="16.5"/><circle cx="399.1" cy="1402.0" r="16.5"/><circle cx="411.8" cy="1402.0" r="16.5"/><circle cx="336.8" cy="1433.9" r="16.5"/><circle cx="325.1" cy="1445.7" r="16.5"/><circle cx="331.8" cy="1449.1" r="16.5"/><circle cx="363.8" cy="1445.7" r="16.5"/><circle cx="377.2" cy="1433.9" r="16.5"/><circle cx="413.5" cy="1445.7" r="16.5"/><circle cx="483.3" cy="1371.6" r="16.5"/><circle cx="353.7" cy="1277.4" r="16.5"/><circle cx="362.1" cy="1275.7" r="16.5"/><circle cx="384.0" cy="1263.9" r="16.5"/><circle cx="380.6" cy="1324.5" r="16.5"/><circle cx="387.4" cy="1327.9" r="16.5"/><circle cx="399.1" cy="1317.8" r="16.5"/><circle cx="345.3" cy="1415.4" r="16.5"/><circle cx="362.1" cy="1412.1" r="16.5"/><circle cx="370.5" cy="1422.2" r="16.5"/><circle cx="350.3" cy="1425.5" r="16.5"/><circle cx="336.8" cy="1395.2" r="16.5"/><circle cx="353.7" cy="1386.8" r="16.5"/><circle cx="246.2" cy="1358.5" r="16.5"/><circle cx="235.3" cy="1385.1" r="16.5"/><circle cx="285.4" cy="1449.1" r="16.5"/><circle cx="309.0" cy="1355.1" r="16.5"/><circle cx="313.2" cy="1399.4" r="16.5"/><circle cx="348.6" cy="1274.0" r="16.5"/><circle cx="360.4" cy="1282.4" r="16.5"/><circle cx="367.1" cy="1282.4" r="16.5"/><circle cx="387.4" cy="1258.8" r="16.5"/><circle cx="386.5" cy="1265.6" r="16.5"/><circle cx="424.4" cy="1259.7" r="16.5"/><circle cx="448.0" cy="1280.7" r="16.5"/><circle cx="453.9" cy="1275.7" r="16.5"/><circle cx="332.6" cy="1329.5" r="16.5"/><circle cx="374.7" cy="1327.9" r="16.5"/><circle cx="392.4" cy="1321.1" r="16.5"/><circle cx="407.6" cy="1312.7" r="16.5"/><circle cx="410.9" cy="1309.3" r="16.5"/><circle cx="351.2" cy="1358.2" r="16.5"/><circle cx="341.9" cy="1408.7" r="16.5"/><circle cx="355.4" cy="1418.8" r="16.5"/><circle cx="374.7" cy="1417.9" r="16.5"/><circle cx="384.8" cy="1409.5" r="16.5"/><circle cx="431.1" cy="1406.2" r="16.5"/><circle cx="366.3" cy="1450.8" r="16.5"/><circle cx="420.2" cy="1440.7" r="16.5"/><circle cx="510.3" cy="1370.0" r="16.5"/><circle cx="492.6" cy="1400.3" r="16.5"/>
</g>
<line class="ln" x1="192.8" y1="1416.8" x2="509.9" y2="1308.0"/>
<rect class="fr" x="97.70" y="1103.60" width="470.30" height="468.00"/>
<line class="t" x1="148.4" y1="1571.6" x2="148.4" y2="1565.6"/>
<text class="tk" text-anchor="middle" transform="translate(147.6,1613.6) scale(1,1.033)">0</text>
<line class="t" x1="232.0" y1="1571.6" x2="232.0" y2="1565.6"/>
<text class="tk" text-anchor="middle" transform="translate(231.2,1613.6) scale(1,1.033)">0.5</text>
<line class="t" x1="315.6" y1="1571.6" x2="315.6" y2="1565.6"/>
<text class="tk" text-anchor="middle" transform="translate(314.8,1613.6) scale(1,1.033)">1</text>
<line class="t" x1="399.2" y1="1571.6" x2="399.2" y2="1565.6"/>
<text class="tk" text-anchor="middle" transform="translate(398.4,1613.6) scale(1,1.033)">1.5</text>
<line class="t" x1="482.8" y1="1571.6" x2="482.8" y2="1565.6"/>
<text class="tk" text-anchor="middle" transform="translate(482.0,1613.6) scale(1,1.033)">2</text>
<line class="t" x1="97.7" y1="1220.7" x2="103.7" y2="1220.7"/>
<text class="tk" text-anchor="end" transform="translate(88.2,1234.0) scale(1,1.033)">0.4</text>
<line class="t" x1="97.7" y1="1337.3" x2="103.7" y2="1337.3"/>
<text class="tk" text-anchor="end" transform="translate(88.2,1350.6) scale(1,1.033)">0.2</text>
<line class="t" x1="97.7" y1="1453.9" x2="103.7" y2="1453.9"/>
<text class="tk" text-anchor="end" transform="translate(88.2,1467.2) scale(1,1.033)">0</text>
<text class="pl" x="121.3" y="1143.0">g</text>
<text class="rt" x="380.7" y="1192.6"><tspan font-style="italic">R</tspan> = 0.35<tspan dy="-21" dx="2" font-size="26">*</tspan></text>
</g>
<g>
<g class="c1">
<circle cx="998.6" cy="1290.2" r="16.8"/><circle cx="880.2" cy="1346.2" r="16.8"/><circle cx="866.5" cy="1351.5" r="16.8"/><circle cx="955.2" cy="1361.0" r="16.8"/><circle cx="907.7" cy="1383.2" r="16.8"/><circle cx="1034.5" cy="1384.3" r="16.8"/><circle cx="891.9" cy="1410.7" r="16.8"/><circle cx="788.5" cy="1358.7" r="16.8"/><circle cx="1099.6" cy="1270.4" r="16.8"/><circle cx="941.7" cy="1259.4" r="16.8"/><circle cx="943.8" cy="1264.7" r="16.8"/><circle cx="873.1" cy="1274.6" r="16.8"/><circle cx="888.9" cy="1280.5" r="16.8"/><circle cx="992.4" cy="1267.8" r="16.8"/><circle cx="1030.5" cy="1261.5" r="16.8"/><circle cx="1041.0" cy="1281.6" r="16.8"/><circle cx="984.0" cy="1278.4" r="16.8"/><circle cx="936.4" cy="1294.2" r="16.8"/><circle cx="866.7" cy="1312.2" r="16.8"/><circle cx="916.4" cy="1316.4" r="16.8"/><circle cx="854.0" cy="1330.2" r="16.8"/><circle cx="907.9" cy="1333.3" r="16.8"/><circle cx="937.5" cy="1332.3" r="16.8"/><circle cx="851.9" cy="1345.0" r="16.8"/><circle cx="971.3" cy="1339.7" r="16.8"/><circle cx="986.1" cy="1339.7" r="16.8"/><circle cx="1038.9" cy="1338.6" r="16.8"/><circle cx="1057.9" cy="1338.6" r="16.8"/><circle cx="981.9" cy="1362.9" r="16.8"/><circle cx="917.4" cy="1370.3" r="16.8"/><circle cx="931.2" cy="1371.4" r="16.8"/><circle cx="1011.5" cy="1372.4" r="16.8"/><circle cx="970.3" cy="1383.0" r="16.8"/><circle cx="863.5" cy="1388.3" r="16.8"/><circle cx="846.6" cy="1405.2" r="16.8"/><circle cx="824.4" cy="1410.5" r="16.8"/><circle cx="845.6" cy="1417.9" r="16.8"/><circle cx="837.1" cy="1430.5" r="16.8"/><circle cx="876.2" cy="1405.2" r="16.8"/><circle cx="933.3" cy="1407.3" r="16.8"/><circle cx="961.8" cy="1403.1" r="16.8"/><circle cx="1007.2" cy="1403.1" r="16.8"/><circle cx="1042.1" cy="1403.1" r="16.8"/><circle cx="941.7" cy="1424.2" r="16.8"/><circle cx="968.1" cy="1415.7" r="16.8"/><circle cx="997.7" cy="1434.8" r="16.8"/><circle cx="864.6" cy="1449.6" r="16.8"/><circle cx="899.5" cy="1446.4" r="16.8"/><circle cx="899.9" cy="1446.8" r="16.8"/><circle cx="951.2" cy="1439.0" r="16.8"/><circle cx="948.1" cy="1451.7" r="16.8"/><circle cx="1052.7" cy="1443.6" r="16.8"/><circle cx="918.5" cy="1259.4" r="16.8"/><circle cx="963.9" cy="1276.3" r="16.8"/><circle cx="991.4" cy="1263.6" r="16.8"/><circle cx="996.7" cy="1289.0" r="16.8"/><circle cx="1026.2" cy="1284.7" r="16.8"/><circle cx="892.7" cy="1314.3" r="16.8"/><circle cx="912.1" cy="1314.3" r="16.8"/><circle cx="977.6" cy="1309.0" r="16.8"/><circle cx="966.0" cy="1315.4" r="16.8"/><circle cx="957.6" cy="1320.7" r="16.8"/><circle cx="867.3" cy="1328.1" r="16.8"/><circle cx="864.6" cy="1350.2" r="16.8"/><circle cx="878.3" cy="1345.0" r="16.8"/><circle cx="948.1" cy="1341.8" r="16.8"/><circle cx="1046.3" cy="1348.1" r="16.8"/><circle cx="953.3" cy="1359.7" r="16.8"/><circle cx="984.0" cy="1354.5" r="16.8"/><circle cx="905.8" cy="1381.9" r="16.8"/><circle cx="1032.6" cy="1383.0" r="16.8"/><circle cx="869.9" cy="1390.4" r="16.8"/><circle cx="875.2" cy="1394.6" r="16.8"/><circle cx="834.0" cy="1418.9" r="16.8"/><circle cx="890.0" cy="1409.4" r="16.8"/><circle cx="987.2" cy="1398.8" r="16.8"/><circle cx="998.8" cy="1401.0" r="16.8"/><circle cx="938.6" cy="1418.9" r="16.8"/><circle cx="994.6" cy="1430.5" r="16.8"/><circle cx="943.8" cy="1442.2" r="16.8"/><circle cx="929.0" cy="1449.6" r="16.8"/><circle cx="985.0" cy="1446.4" r="16.8"/>
</g>
<line class="ln" x1="788.5" y1="1385.7" x2="1098.1" y2="1328.7"/>
<rect class="fr" x="689.90" y="1103.60" width="468.10" height="468.00"/>
<line class="t" x1="777.5" y1="1571.6" x2="777.5" y2="1565.6"/>
<text class="tk" text-anchor="middle" transform="translate(776.7,1613.6) scale(1,1.033)">-2.2</text>
<line class="t" x1="894.5" y1="1571.6" x2="894.5" y2="1565.6"/>
<text class="tk" text-anchor="middle" transform="translate(893.7,1613.6) scale(1,1.033)">-1.8</text>
<line class="t" x1="1011.4" y1="1571.6" x2="1011.4" y2="1565.6"/>
<text class="tk" text-anchor="middle" transform="translate(1010.6,1613.6) scale(1,1.033)">-1.4</text>
<line class="t" x1="1128.4" y1="1571.6" x2="1128.4" y2="1565.6"/>
<text class="tk" text-anchor="middle" transform="translate(1127.6,1613.6) scale(1,1.033)">-1</text>
<line class="t" x1="689.9" y1="1220.7" x2="695.9" y2="1220.7"/>
<text class="tk" text-anchor="end" transform="translate(680.4,1234.0) scale(1,1.033)">0.4</text>
<line class="t" x1="689.9" y1="1337.3" x2="695.9" y2="1337.3"/>
<text class="tk" text-anchor="end" transform="translate(680.4,1350.6) scale(1,1.033)">0.2</text>
<line class="t" x1="689.9" y1="1453.9" x2="695.9" y2="1453.9"/>
<text class="tk" text-anchor="end" transform="translate(680.4,1467.2) scale(1,1.033)">0</text>
<text class="pl" x="713.5" y="1143.0">h</text>
<text class="rt" x="971.1" y="1192.6"><tspan font-style="italic">R</tspan> = 0.22<tspan dy="-21" dx="2" font-size="26">*</tspan></text>
</g>
<g>
<g class="c2">
<circle cx="1476.2" cy="1297.6" r="16.8"/><circle cx="1444.5" cy="1302.9" r="16.8"/><circle cx="1587.1" cy="1268.0" r="16.8"/><circle cx="1609.3" cy="1274.4" r="16.8"/><circle cx="1572.3" cy="1287.1" r="16.8"/><circle cx="1659.6" cy="1317.7" r="16.8"/><circle cx="1553.3" cy="1368.0" r="16.8"/><circle cx="1594.5" cy="1432.9" r="16.8"/><circle cx="1517.4" cy="1450.8" r="16.8"/><circle cx="1600.8" cy="1362.1" r="16.8"/><circle cx="1348.5" cy="1323.2" r="16.8"/><circle cx="1651.8" cy="1238.2" r="16.8"/><circle cx="1450.0" cy="1271.0" r="16.8"/><circle cx="1482.7" cy="1259.4" r="16.8"/><circle cx="1499.6" cy="1280.5" r="16.8"/><circle cx="1425.7" cy="1292.1" r="16.8"/><circle cx="1497.1" cy="1305.9" r="16.8"/><circle cx="1541.9" cy="1252.0" r="16.8"/><circle cx="1585.2" cy="1245.6" r="16.8"/><circle cx="1581.0" cy="1250.9" r="16.8"/><circle cx="1527.1" cy="1282.6" r="16.8"/><circle cx="1529.2" cy="1295.3" r="16.8"/><circle cx="1598.9" cy="1301.6" r="16.8"/><circle cx="1628.5" cy="1268.9" r="16.8"/><circle cx="1634.9" cy="1299.5" r="16.8"/><circle cx="1649.6" cy="1308.0" r="16.8"/><circle cx="1549.3" cy="1318.5" r="16.8"/><circle cx="1592.6" cy="1335.4" r="16.8"/><circle cx="1631.7" cy="1327.0" r="16.8"/><circle cx="1477.4" cy="1338.6" r="16.8"/><circle cx="1502.8" cy="1364.0" r="16.8"/><circle cx="1642.2" cy="1350.2" r="16.8"/><circle cx="1565.1" cy="1362.9" r="16.8"/><circle cx="1598.9" cy="1360.8" r="16.8"/><circle cx="1573.6" cy="1384.0" r="16.8"/><circle cx="1620.1" cy="1379.8" r="16.8"/><circle cx="1544.0" cy="1401.0" r="16.8"/><circle cx="1556.7" cy="1405.2" r="16.8"/><circle cx="1561.9" cy="1420.0" r="16.8"/><circle cx="1480.6" cy="1447.4" r="16.8"/><circle cx="1532.4" cy="1431.6" r="16.8"/><circle cx="1515.5" cy="1449.6" r="16.8"/><circle cx="1603.2" cy="1427.4" r="16.8"/><circle cx="1626.4" cy="1430.5" r="16.8"/><circle cx="1616.9" cy="1452.7" r="16.8"/><circle cx="1632.7" cy="1443.2" r="16.8"/><circle cx="1448.9" cy="1252.0" r="16.8"/><circle cx="1496.4" cy="1276.3" r="16.8"/><circle cx="1411.9" cy="1302.7" r="16.8"/><circle cx="1442.6" cy="1301.6" r="16.8"/><circle cx="1474.3" cy="1296.4" r="16.8"/><circle cx="1545.0" cy="1249.9" r="16.8"/><circle cx="1608.4" cy="1249.9" r="16.8"/><circle cx="1585.2" cy="1266.8" r="16.8"/><circle cx="1545.0" cy="1283.7" r="16.8"/><circle cx="1570.4" cy="1285.8" r="16.8"/><circle cx="1578.9" cy="1299.5" r="16.8"/><circle cx="1607.4" cy="1273.1" r="16.8"/><circle cx="1645.4" cy="1273.1" r="16.8"/><circle cx="1642.2" cy="1283.7" r="16.8"/><circle cx="1556.7" cy="1325.9" r="16.8"/><circle cx="1640.1" cy="1321.7" r="16.8"/><circle cx="1657.7" cy="1316.4" r="16.8"/><circle cx="1455.2" cy="1352.4" r="16.8"/><circle cx="1485.9" cy="1384.0" r="16.8"/><circle cx="1551.4" cy="1366.7" r="16.8"/><circle cx="1563.0" cy="1379.8" r="16.8"/><circle cx="1622.2" cy="1389.3" r="16.8"/><circle cx="1612.7" cy="1393.6" r="16.8"/><circle cx="1554.6" cy="1394.6" r="16.8"/><circle cx="1572.5" cy="1394.6" r="16.8"/><circle cx="1573.6" cy="1405.2" r="16.8"/><circle cx="1458.4" cy="1437.9" r="16.8"/><circle cx="1462.6" cy="1454.8" r="16.8"/><circle cx="1482.7" cy="1453.8" r="16.8"/><circle cx="1501.7" cy="1430.5" r="16.8"/><circle cx="1544.0" cy="1453.8" r="16.8"/><circle cx="1592.6" cy="1431.6" r="16.8"/><circle cx="1630.2" cy="1439.0" r="16.8"/>
</g>
<line class="ln" x1="1348.5" y1="1351.3" x2="1656.6" y2="1343.9"/>
<rect class="fr" x="1279.60" y="1103.60" width="469.80" height="468.00"/>
<line class="t" x1="1341.2" y1="1571.6" x2="1341.2" y2="1565.6"/>
<text class="tk" text-anchor="middle" transform="translate(1340.4,1613.6) scale(1,1.033)">0.8</text>
<line class="t" x1="1463.8" y1="1571.6" x2="1463.8" y2="1565.6"/>
<text class="tk" text-anchor="middle" transform="translate(1463.0,1613.6) scale(1,1.033)">1.4</text>
<line class="t" x1="1586.7" y1="1571.6" x2="1586.7" y2="1565.6"/>
<text class="tk" text-anchor="middle" transform="translate(1585.9,1613.6) scale(1,1.033)">2</text>
<line class="t" x1="1709.2" y1="1571.6" x2="1709.2" y2="1565.6"/>
<text class="tk" text-anchor="middle" transform="translate(1708.4,1613.6) scale(1,1.033)">2.6</text>
<line class="t" x1="1279.6" y1="1220.7" x2="1285.6" y2="1220.7"/>
<text class="tk" text-anchor="end" transform="translate(1270.1,1234.0) scale(1,1.033)">0.4</text>
<line class="t" x1="1279.6" y1="1337.3" x2="1285.6" y2="1337.3"/>
<text class="tk" text-anchor="end" transform="translate(1270.1,1350.6) scale(1,1.033)">0.2</text>
<line class="t" x1="1279.6" y1="1453.9" x2="1285.6" y2="1453.9"/>
<text class="tk" text-anchor="end" transform="translate(1270.1,1467.2) scale(1,1.033)">0</text>
<text class="pl" x="1303.2" y="1143.0">i</text>
<text class="rt" x="1563.8" y="1187.8"><tspan font-style="italic">R</tspan> = 0.02</text>
</g>
<text class="ax" style="font-size:36px" transform="translate(26,320) rotate(-90)"><tspan class="gk" font-size="34.4">β</tspan><tspan dx="0"> diversity</tspan></text>
<text class="ax" style="font-size:36px" transform="translate(28.4,956.9) rotate(-90)">Species replacement</text>
<text class="ax" style="font-size:36px" transform="translate(28.5,1434) rotate(-90)">Nestedness</text>
<text class="ax" style="font-size:36.2px" x="181.0" y="1656">Log(<tspan class="gk" font-size="29.5" dx="0.4">σ</tspan><tspan dx="2"> range limits</tspan>)</text>
<text class="ax" style="font-size:36.2px" x="765.9" y="1656">Log(<tspan class="gk" font-size="29.5" dx="0.4">σ</tspan><tspan dx="2"> temperature</tspan>)</text>
<text class="ax" style="font-size:36.2px" x="1355.9" y="1656">Log(<tspan class="gk" font-size="29.5" dx="0.4">σ</tspan><tspan dx="2"> precipitation</tspan>)</text>
</svg></body></html>
